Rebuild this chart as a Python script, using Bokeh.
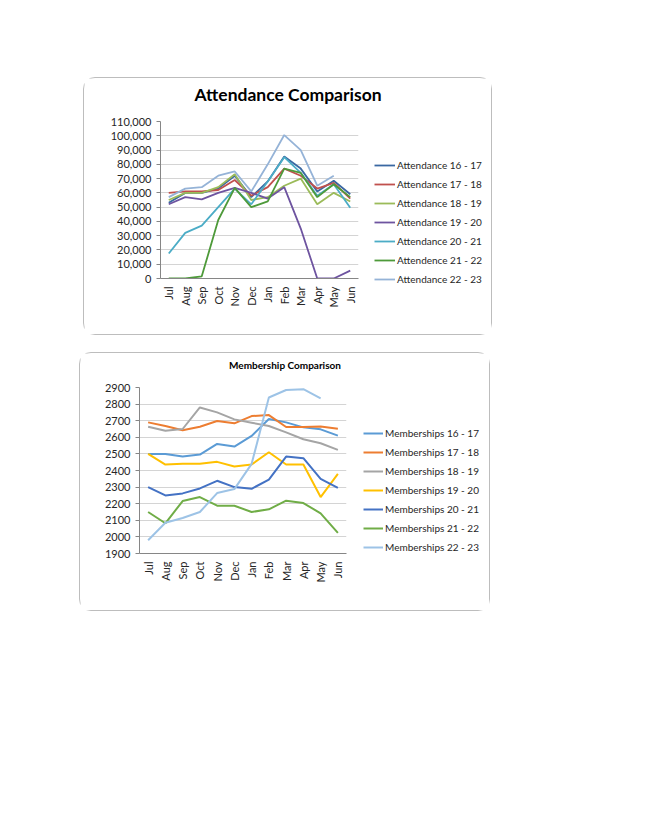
import math
from bokeh.plotting import figure
from bokeh.models import (Range1d, NumeralTickFormatter, SingleIntervalTicker,
                          Legend, LegendItem, Title, Spacer, Plot)
from bokeh.layouts import column, row
from bokeh.embed import file_html
from bokeh.resources import INLINE

NaN = float("nan")

months = ["Jul", "Aug", "Sep", "Oct", "Nov", "Dec", "Jan", "Feb", "Mar", "Apr", "May", "Jun"]

# ---- Attendance data ----
att_labels = ["Attendance 16 - 17", "Attendance 17 - 18", "Attendance 18 - 19",
              "Attendance 19 - 20", "Attendance 20 - 21", "Attendence 21 - 22",
              "Attendance 22 - 23"]
att_16_17 = [53000, 60000, 60000, 63000, 72000, 57000, 68000, 85500, 77000, 61000, 68500, 59000]
att_17_18 = [60000, 61000, 61000, 62000, 69000, 58000, 64000, 77000, 72000, 63000, 67000, 56000]
att_18_19 = [55000, 60000, 60000, 64000, 73000, 55000, 57000, 65000, 70000, 52000, 60000, 54000]
att_19_20 = [52000, 57000, 55500, 60000, 63500, 60000, 56000, 64000, 35000, 0, 0, 5500]
att_20_21 = [17500, 32000, 37000, 50000, 63000, 52000, 68000, 85000, 74000, 58000, 66000, 49500]
att_21_22 = [0, 0, 1500, 41000, 63500, 50000, 54000, 77000, 74000, 57000, 66000, 57000]
att_22_23 = [57000, 63000, 64000, 72000, 75000, 61000, 80000, 100500, 90000, 65000, 72000, NaN]
att_colors = ["#3A68A2", "#C0504D", "#9BBB59", "#6E54A0", "#4BACC6", "#4E9A3A", "#95B3D7"]

# ---- Membership data ----
mem_labels = ["Memberships 16 - 17", "Memberships 17 - 18", "Memberships 18 - 19",
              "Memberships 19 - 20", "Memberships 20 - 21", "Memberships 21 - 22",
              "Memberships 22 - 23"]
mem_16_17 = [2500, 2500, 2484, 2496, 2560, 2544, 2608, 2710, 2690, 2660, 2648, 2610]
mem_17_18 = [2690, 2668, 2642, 2664, 2698, 2684, 2728, 2734, 2662, 2662, 2665, 2652]
mem_18_19 = [2664, 2640, 2650, 2780, 2750, 2708, 2688, 2668, 2630, 2588, 2564, 2524]
mem_19_20 = [2500, 2436, 2440, 2440, 2452, 2424, 2436, 2510, 2436, 2436, 2240, 2380]
mem_20_21 = [2300, 2250, 2262, 2292, 2338, 2300, 2290, 2345, 2484, 2474, 2350, 2296]
mem_21_22 = [2150, 2082, 2216, 2240, 2188, 2188, 2150, 2166, 2218, 2204, 2142, 2024]
mem_22_23 = [1980, 2085, 2114, 2150, 2264, 2288, 2440, 2840, 2885, 2890, 2835, NaN]
mem_colors = ["#5B9BD5", "#ED7D31", "#A5A5A5", "#FFC000", "#4472C4", "#70AD47", "#9DC3E6"]

FONT = "Lato"
BOX_STYLE = {"border": "1px solid #BDBDBD", "border-radius": "12px",
             "background-color": "white"}
HAS_FRAME_ALIGN = "frame_align" in Plot.properties()


def blank_fig(width, height, **kw):
    f = figure(width=width, height=height, output_backend="svg", toolbar_location=None,
               x_axis_location=None, y_axis_location=None, min_border=0, **kw)
    f.outline_line_color = None
    f.xgrid.visible = False
    f.ygrid.visible = False
    f.background_fill_color = "white"
    f.border_fill_color = "white"
    return f


def make_box(W, H, title, tsize, th, ttop, cw, ml, mt, mb, y0, y1, step, fmt,
             series, labels, colors, lw, leg_x, leg_y, glyph_w, lsize):
    # title strip
    tf = blank_fig(W, th, min_border_top=ttop)
    tf.title = Title(text=title, align="center", text_font=FONT, text_font_size=tsize,
                     text_font_style="bold", text_color="#000000", standoff=0)

    # chart
    ch = H - th
    p = figure(x_range=months, width=cw, height=ch, output_backend="svg",
               toolbar_location=None, min_border_left=ml, min_border_top=mt,
               min_border_right=3, min_border_bottom=mb)
    p.y_range = Range1d(y0, y1)
    p.outline_line_color = None
    p.background_fill_color = "white"
    p.border_fill_color = "white"
    p.xgrid.grid_line_color = None
    p.ygrid.grid_line_color = "#D4D4D4"
    p.yaxis.ticker = SingleIntervalTicker(interval=step)
    if fmt:
        p.yaxis.formatter = NumeralTickFormatter(format=fmt)
    for ax in (p.xaxis[0], p.yaxis[0]):
        ax.axis_line_color = "#868686"
        ax.major_tick_line_color = "#868686"
        ax.minor_tick_line_color = None
        ax.major_tick_in = 0
        ax.major_tick_out = 4
        ax.major_label_text_font = FONT
        ax.major_label_text_font_size = "11px"
        ax.major_label_text_color = "#262626"
    p.yaxis.major_label_standoff = 5
    p.xaxis.major_tick_line_color = None
    p.xaxis.major_label_orientation = math.pi / 2
    p.xaxis.major_label_standoff = 4
    for ys, col in zip(series, colors):
        p.line(months, ys, line_color=col, line_width=lw)

    # legend panel (series drawn out of view; only the legend shows)
    lf = blank_fig(W - cw, ch, x_range=months)
    if HAS_FRAME_ALIGN:
        lf.frame_align = False
    lf.y_range = Range1d(y1 + 10 * (y1 - y0), y1 + 11 * (y1 - y0))
    items = []
    for ys, lab, col in zip(series, labels, colors):
        r = lf.line(months, ys, line_color=col, line_width=lw)
        items.append(LegendItem(label=lab, renderers=[r]))
    leg = Legend(items=items, location=(leg_x, leg_y), padding=0, spacing=3, margin=0,
                 glyph_width=glyph_w, glyph_height=16, label_height=16,
                 label_standoff=2, label_text_font=FONT, label_text_font_size=lsize,
                 label_text_color="#262626", border_line_color=None,
                 background_fill_alpha=0)
    lf.add_layout(leg, "center")

    box = column(tf, row(p, lf), styles=BOX_STYLE)
    return box


box1 = make_box(407, 256, "Attendance Comparison", "17.5px", 30, 26, 277, 76, 13, 56,
                0, 110000, 10000, "0,0",
                [att_16_17, att_17_18, att_18_19, att_19_20, att_20_21, att_21_22, att_22_23],
                att_labels, att_colors, 1.8, 13, 47 if HAS_FRAME_ALIGN else -8, 21, "10px")

box2 = make_box(409, 257, "Membership Comparison", "10px", 25, 17, 269, 59, 9, 57,
                1900, 2900, 100, None,
                [mem_16_17, mem_17_18, mem_18_19, mem_19_20, mem_20_21, mem_21_22, mem_22_23],
                mem_labels, mem_colors, 2, 14, 55 if HAS_FRAME_ALIGN else 0, 20, "10px")

layout = column(
    Spacer(height=77),
    row(Spacer(width=83), box1),
    Spacer(height=17),
    row(Spacer(width=79), box2),
)

open("out.html", "w").write(file_html(layout, INLINE))
